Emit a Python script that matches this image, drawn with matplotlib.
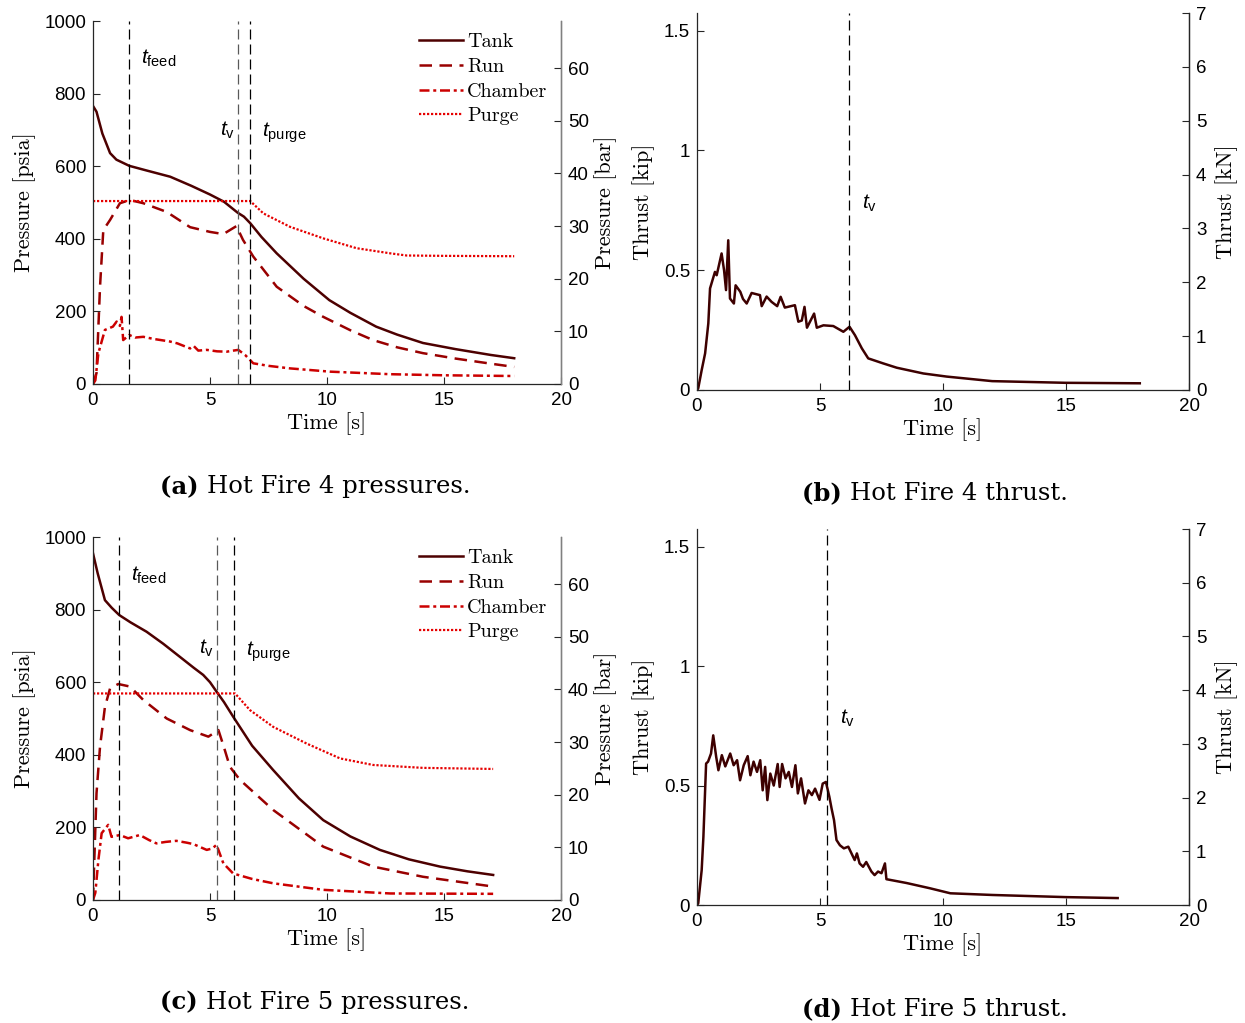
import matplotlib
matplotlib.use("Agg")
import matplotlib.pyplot as plt
import numpy as np

plt.rcParams['font.family'] = ['Liberation Sans', 'DejaVu Sans']
plt.rcParams['mathtext.fontset'] = 'custom'
plt.rcParams['mathtext.rm'] = 'Liberation Sans'
plt.rcParams['mathtext.it'] = 'Liberation Sans:italic'
plt.rcParams['axes.unicode_minus'] = False

# ---------------- Data: Hot Fire 4 pressures (psia) ----------------
t4_tank = [0, 0.15, 0.4, 0.73, 1.0, 1.55, 2.3, 3.3, 4.2, 5.0, 5.6, 6.18, 6.45, 6.72, 7.2, 7.85, 9.0, 10.1, 11.0, 12.1, 13.0, 14.1, 15.5, 17.0, 18.0]
p4_tank = [766, 750, 690, 636, 618, 601, 588, 571, 546, 522, 502, 472, 461, 443, 405, 360, 290, 231, 196, 158, 136, 113, 96, 80, 71]
t4_run = [0, 0.15, 0.3, 0.44, 0.73, 1.15, 1.57, 2.15, 3.15, 4.15, 5.0, 5.57, 6.13, 6.41, 6.85, 7.85, 9.0, 9.84, 11.0, 11.97, 13.0, 14.1, 15.5, 17.0, 18.0]
p4_run = [0, 30, 268, 424, 452, 498, 507, 498, 474, 432, 419, 413, 435, 397, 351, 268, 215, 185, 148, 121, 101, 85, 70, 56, 47]
t4_ch = [0, 0.1, 0.23, 0.51, 0.85, 1.01, 1.15, 1.22, 1.29, 1.55, 1.8, 2.15, 2.6, 3.0, 3.29, 3.6, 4.15, 4.3, 4.5, 4.86,
         5.3, 5.71, 6.0, 6.21, 6.5, 6.85, 7.5, 8.42, 10.13, 12.7, 15.0, 18.0]
p4_ch = [0, 10, 85, 149, 158, 172, 160, 185, 121, 135, 128, 130, 124, 120, 117, 112, 98, 105, 92, 94,
         90, 89, 92, 94, 80, 57, 50, 43, 34, 27, 24, 22]
t4_pu = [0, 6.72, 7.28, 8.42, 9.85, 11.27, 12.7, 13.4, 15.0, 18.0]
p4_pu = [504, 504, 470, 433, 401, 374, 360, 354, 353, 352]
ev4 = [1.55, 6.18, 6.72]   # t_feed, t_v, t_purge

# ---------------- Data: Hot Fire 5 pressures (psia) ----------------
t5_tank = [0, 0.2, 0.51, 0.8, 1.12, 1.6, 2.29, 3.0, 3.71, 4.3, 4.71, 5.0, 5.28, 5.6, 5.99, 6.8, 7.7, 8.8, 9.84, 11.0, 12.26, 13.5, 14.83, 16.0, 17.1]
p5_tank = [955, 900, 826, 805, 785, 765, 739, 706, 670, 640, 620, 600, 574, 545, 505, 425, 358, 280, 220, 175, 138, 112, 92, 79, 69]
t5_run = [0, 0.15, 0.3, 0.51, 0.73, 1.08, 1.58, 2.15, 3.15, 4.15, 4.93, 5.36, 5.6, 5.85, 6.28, 7.7, 9.84, 11.97, 14.1, 17.1]
p5_run = [0, 294, 422, 532, 583, 595, 588, 551, 500, 468, 450, 468, 420, 367, 331, 248, 147, 92, 64, 37]
t5_ch = [0, 0.1, 0.23, 0.37, 0.65, 0.79, 1.15, 1.5, 2.0, 2.4, 2.71, 3.1, 3.56, 4.0, 4.29, 4.86, 5.1, 5.28, 5.57, 5.99,
         6.8, 7.7, 9.84, 12.7, 17.1]
p5_ch = [0, 20, 110, 184, 207, 174, 179, 170, 179, 165, 156, 160, 163, 158, 154, 138, 142, 152, 101, 73,
         58, 46, 28, 18, 17]
t5_pu = [0, 6.07, 6.71, 7.7, 9.13, 10.56, 11.97, 14.1, 17.1]
p5_pu = [569, 569, 523, 477, 431, 390, 372, 364, 361]
ev5 = [1.12, 5.3, 6.03]

# ---------------- Data: thrust (kip) ----------------
t4_th = [0, 0.05, 0.19, 0.33, 0.46, 0.53, 0.73, 0.8, 1.0, 1.1, 1.18, 1.27, 1.34, 1.5, 1.57, 1.76, 1.87, 2.02, 2.22, 2.56,
         2.63, 2.83, 3.03, 3.26, 3.4, 3.57, 3.98, 4.12, 4.26, 4.37, 4.47, 4.76, 4.87, 5.14, 5.54, 5.95, 6.2, 6.42, 6.7, 6.96,
         7.57, 8.12, 9.2, 10.15, 12.0, 15.0, 18.0]
F4 = [0, 0.007, 0.083, 0.153, 0.278, 0.424, 0.493, 0.479, 0.57, 0.50, 0.417, 0.625, 0.382, 0.361, 0.437, 0.41, 0.38, 0.361, 0.405, 0.396,
      0.35, 0.39, 0.368, 0.35, 0.389, 0.344, 0.354, 0.285, 0.29, 0.347, 0.26, 0.319, 0.26, 0.27, 0.267, 0.243, 0.264, 0.229, 0.174, 0.132,
      0.111, 0.093, 0.069, 0.056, 0.037, 0.03, 0.028]
t5_th = [0, 0.05, 0.19, 0.26, 0.37, 0.45, 0.57, 0.66, 0.78, 0.87, 1.01, 1.15, 1.35, 1.49, 1.63, 1.75, 1.9, 2.06, 2.17, 2.3,
         2.44, 2.57, 2.67, 2.77, 2.86, 2.98, 3.12, 3.28, 3.36, 3.46, 3.6, 3.73, 3.86, 4.0, 4.1, 4.23, 4.39, 4.53, 4.67, 4.8,
         4.98, 5.11, 5.24, 5.38, 5.47, 5.57, 5.67, 5.81, 5.97, 6.15, 6.28, 6.41, 6.5, 6.61, 6.75, 6.88, 7.09, 7.22, 7.36, 7.5,
         7.64, 7.7, 8.52, 9.47, 10.3, 12.0, 15.0, 17.1]
F5 = [0, 0.007, 0.146, 0.285, 0.592, 0.6, 0.634, 0.71, 0.62, 0.564, 0.627, 0.58, 0.634, 0.585, 0.606, 0.522, 0.585, 0.623, 0.543, 0.6,
      0.557, 0.606, 0.48, 0.578, 0.439, 0.55, 0.50, 0.59, 0.494, 0.59, 0.53, 0.557, 0.494, 0.585, 0.467, 0.53, 0.425, 0.48, 0.46, 0.487,
      0.44, 0.508, 0.515, 0.453, 0.404, 0.355, 0.272, 0.25, 0.237, 0.244, 0.216, 0.188, 0.216, 0.174, 0.16, 0.18, 0.14, 0.125, 0.14, 0.133,
      0.174, 0.108, 0.092, 0.07, 0.049, 0.042, 0.033, 0.029]

series_names = ['Tank', 'Run', 'Chamber', 'Purge']
captions = ['Hot Fire 4 pressures.', 'Hot Fire 4 thrust.', 'Hot Fire 5 pressures.', 'Hot Fire 5 thrust.']
PSI_PER_BAR = 14.5038
KN_PER_KIP = 4.44822

# ---------------- Styles ----------------
C_TANK = '#4d0000'
C_RUN = '#990000'
C_CH = '#cc0000'
C_PU = '#e60000'
C_THR = '#3d0000'
TICK_FS = 13.5
LAB_FS = 16
CM = 'cmr10'

fig = plt.figure(figsize=(12.45, 10.23), dpi=100)
W, H = 1245, 1023

def fig_axes(l, t, r, b):
    return fig.add_axes([l / W, 1 - b / H, (r - l) / W, (b - t) / H])

def style_axes(ax):
    ax.spines['top'].set_visible(False)
    for s in ['left', 'bottom', 'right']:
        ax.spines[s].set_linewidth(0.9)
        ax.spines[s].set_color('#262626')
    ax.tick_params(direction='in', length=5, width=0.8, labelsize=TICK_FS, colors='#262626', labelcolor='black')
    ax.tick_params(axis='x', pad=6)
    ax.tick_params(axis='y', pad=5)

def pressure_panel(l, t, r, b, data, ev, labpos):
    ax = fig_axes(l, t, r, b)
    (tt, pt), (tr, pr), (tc, pc), (tp, pp) = data
    ax.plot(tt, pt, color=C_TANK, lw=1.8, ls='-', label=series_names[0])
    ax.plot(tr, pr, color=C_RUN, lw=1.8, ls=(0, (5, 3)), label=series_names[1])
    ax.plot(tc, pc, color=C_CH, lw=1.8, ls=(0, (4, 1.5, 1.2, 1.5)), label=series_names[2])
    ax.plot(tp, pp, color=C_PU, lw=1.6, ls=(0, (1, 0.8)), label=series_names[3])
    for i, e in enumerate(ev):
        ax.axvline(e, color='0.35' if i == 1 else 'black', lw=0.9, ls=(0, (8, 4)))
    ax.set_xlim(0, 20)
    ax.set_ylim(0, 1000)
    ax.set_xticks([0, 5, 10, 15, 20])
    ax.set_yticks([0, 200, 400, 600, 800, 1000])
    style_axes(ax)
    ax.set_xlabel('Time [s]', fontsize=LAB_FS, family=CM, labelpad=2)
    ax.set_ylabel('Pressure [psia]', fontsize=LAB_FS, family=CM, labelpad=6)
    names = [r'$t_{\mathrm{feed}}$', r'$t_{\mathrm{v}}$', r'$t_{\mathrm{purge}}$']
    for nm, (x, y) in zip(names, labpos):
        ax.text(x, y, nm, fontsize=15, ha='left', va='center')
    ax.legend(loc='upper left', bbox_to_anchor=(0.67, 1.0), frameon=False, prop={'family': CM, 'size': 14.5},
              handlelength=2.2, handletextpad=0.2, labelspacing=0.33, borderaxespad=0.2)
    ax2 = ax.twinx()
    ax2.set_ylim(0, 1000 / PSI_PER_BAR)
    ax2.set_yticks([0, 10, 20, 30, 40, 50, 60])
    style_axes(ax2)
    ax2.spines['right'].set_color('0.5')
    ax2.spines['left'].set_visible(False)
    ax2.spines['bottom'].set_visible(False)
    ax2.set_ylabel('Pressure [bar]', fontsize=LAB_FS, family=CM, labelpad=4)
    return ax

def thrust_panel(l, t, r, b, tt, ff, tv, labpos):
    ax = fig_axes(l, t, r, b)
    ax.plot(tt, ff, color=C_THR, lw=1.8)
    ax.axvline(tv, color='black', lw=0.9, ls=(0, (8, 4)))
    ax.set_xlim(0, 20)
    ax.set_ylim(0, 7 / KN_PER_KIP)
    ax.set_xticks([0, 5, 10, 15, 20])
    ax.set_yticks([0, 0.5, 1, 1.5])
    ax.set_yticklabels(['0', '0.5', '1', '1.5'])
    style_axes(ax)
    ax.set_xlabel('Time [s]', fontsize=LAB_FS, family=CM, labelpad=2)
    ax.set_ylabel('Thrust [kip]', fontsize=LAB_FS, family=CM, labelpad=6)
    ax.text(labpos[0], labpos[1], r'$t_{\mathrm{v}}$', fontsize=15, ha='left', va='center')
    ax2 = ax.twinx()
    ax2.set_ylim(0, 7)
    ax2.set_yticks(range(0, 8))
    style_axes(ax2)
    ax2.spines['left'].set_visible(False)
    ax2.spines['bottom'].set_visible(False)
    ax2.set_ylabel('Thrust [kN]', fontsize=LAB_FS, family=CM, labelpad=6)
    return ax

pressure_panel(93, 21, 561, 384,
               [(t4_tank, p4_tank), (t4_run, p4_run), (t4_ch, p4_ch), (t4_pu, p4_pu)],
               ev4, [(2.05, 898), (5.43, 700), (7.22, 691)])
thrust_panel(697, 13, 1189, 390, t4_th, F4, ev4[1], (6.71, 0.78))
pressure_panel(93, 537, 561, 900,
               [(t5_tank, p5_tank), (t5_run, p5_run), (t5_ch, p5_ch), (t5_pu, p5_pu)],
               ev5, [(1.62, 895), (4.53, 694), (6.54, 683)])
thrust_panel(697, 529, 1189, 905, t5_th, F5, ev5[1], (5.81, 0.78))

# captions
cap_specs = [('(a)', captions[0], 315, 487), ('(b)', captions[1], 935, 493),
             ('(c)', captions[2], 315, 1002), ('(d)', captions[3], 935, 1009)]
CAP_FS = 17.5
CAP_FONT = 'DejaVu Serif'
for tag, txt, cx, cy in cap_specs:
    t1 = fig.text(0, 0, tag + ' ', fontsize=CAP_FS, family=CAP_FONT, weight='bold')
    t2 = fig.text(0, 0, txt, fontsize=CAP_FS, family=CAP_FONT)
    fig.canvas.draw()
    r = fig.canvas.get_renderer()
    w1 = t1.get_window_extent(r).width
    w2 = t2.get_window_extent(r).width
    x0 = cx - (w1 + w2) / 2
    t1.set_position((x0 / W, 1 - cy / H))
    t1.set_va('center')
    t2.set_position(((x0 + w1) / W, 1 - cy / H))
    t2.set_va('center')

fig.savefig('out.png', dpi=100)
